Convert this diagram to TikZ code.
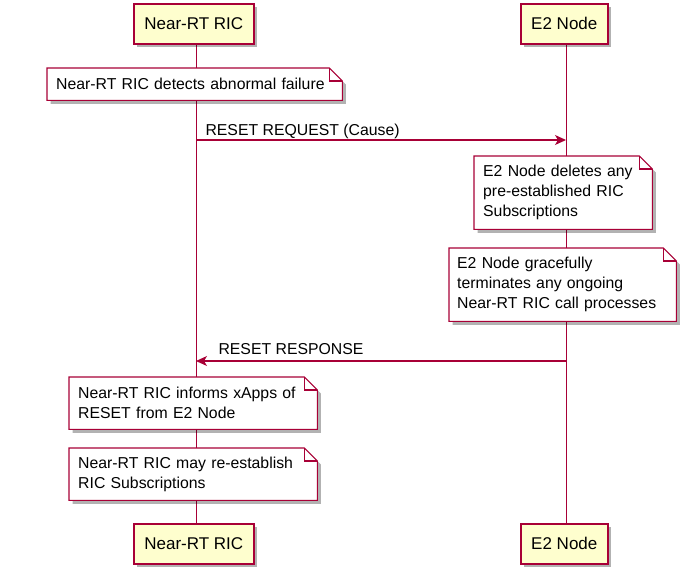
\documentclass[tikz,border=0pt]{standalone}
\usepackage{fontspec}
\setmainfont{Liberation Sans}
\usetikzlibrary{shadows,arrows.meta,backgrounds}
\definecolor{crim}{HTML}{A80036}
\definecolor{partfill}{HTML}{FEFECE}
\newcommand{\drawnote}[1]{%
  \draw[noteshape] (#1.south west) -- (#1.north west) -- ([xshift=-13pt]#1.north east)
    -- ([yshift=-13pt]#1.north east) -- (#1.south east) -- cycle;
  \draw[notefold] ([xshift=-13pt]#1.north east) -- ([xshift=-13pt,yshift=-13pt]#1.north east)
    -- ([yshift=-13pt]#1.north east);}
\begin{document}
\begin{tikzpicture}[x=1pt,y=-1pt,
  font=\fontsize{15.8}{20}\selectfont,
  shad/.style={drop shadow={shadow xshift=3.5pt,shadow yshift=-3.5pt,fill=black,opacity=0.3}},
  part/.style={draw=crim, line width=1.6pt, fill=partfill, minimum height=40pt,
    anchor=north west, inner sep=0pt, shad, font=\fontsize{17}{20}\selectfont},
  notetext/.style={anchor=north west, align=left, inner xsep=9pt, inner ysep=0pt},
  noteshape/.style={draw=crim, line width=1.1pt, fill=white, shad},
  notefold/.style={draw=crim, line width=1.1pt},
  msg/.style={draw=crim, line width=1.1pt, -{Stealth[length=11pt,width=10pt,inset=3pt]}},
  life/.style={draw=crim, line width=1.1pt},
  lbl/.style={inner sep=0pt, anchor=base west}]
\useasboundingbox (0,0) rectangle (691,576);

% participants
\node[part, minimum width=120pt] (ric) at (133,3) {Near-RT RIC};
\node[part, minimum width=87pt] (e2) at (520,3) {E2 Node};
\node[part, minimum width=120pt] (ricb) at (133,523) {Near-RT RIC};
\node[part, minimum width=87pt] (e2b) at (520,523) {E2 Node};

% notes (text)
\node[notetext, minimum width=295pt, minimum height=32pt, text width=277pt] (n1) at (47,68)
  {Near-RT RIC detects abnormal failure};
\node[notetext, minimum width=178pt, minimum height=73pt, text width=160pt] (n2) at (474,156)
  {E2 Node deletes any\\pre-established RIC\\Subscriptions};
\node[notetext, inner xsep=8pt, minimum width=227pt, minimum height=73pt, text width=211pt] (n3) at (449,248)
  {E2 Node gracefully\\terminates any ongoing\\Near-RT RIC call processes};
\node[notetext, minimum width=248pt, minimum height=52pt, text width=230pt] (n4) at (69,377)
  {Near-RT RIC informs xApps of\\RESET from E2 Node};
\node[notetext, minimum width=248pt, minimum height=52pt, text width=230pt] (n5) at (69,448)
  {Near-RT RIC may re-establish\\RIC Subscriptions};

\begin{scope}[on background layer]
  \draw[life] ([xshift=2.5pt]ric.south) -- ([xshift=2.5pt]ricb.north);
  \draw[life] ([xshift=2.5pt]e2.south) -- ([xshift=2.5pt]e2b.north);
  \drawnote{n1}
  \drawnote{n2}
  \drawnote{n3}
  \drawnote{n4}
  \drawnote{n5}
\end{scope}

% messages
\coordinate (m1a) at (196,140);
\coordinate (m1b) at (566,140);
\coordinate (m2a) at (566,361);
\coordinate (m2b) at (196,361);
\draw[msg] (m1a) -- (m1b) node[lbl, pos=0, xshift=9pt, yshift=5pt] {RESET REQUEST (Cause)};
\draw[msg] (m2a) -- (m2b) node[lbl, pos=1, xshift=22pt, yshift=7pt] {RESET RESPONSE};
\end{tikzpicture}
\end{document}
